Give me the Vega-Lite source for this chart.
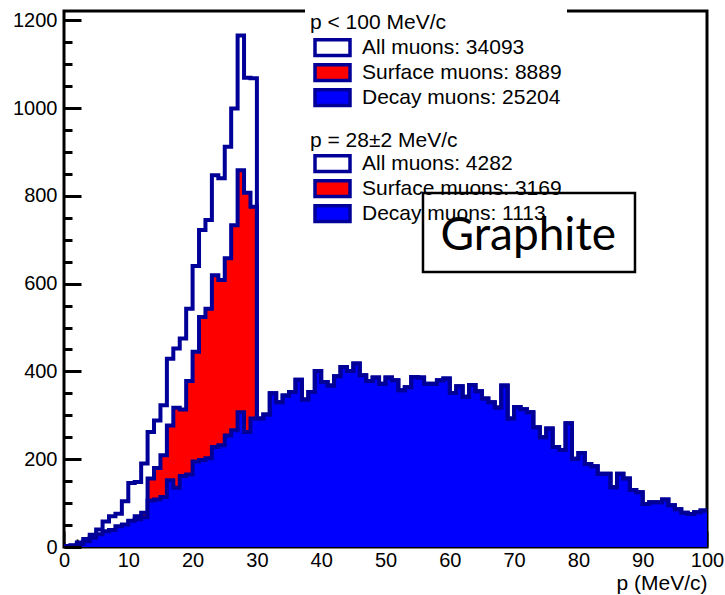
{
  "$schema": "https://vega.github.io/schema/vega-lite/v6.json",
  "width": 643,
  "height": 536,
  "autosize": {"type": "none"},
  "padding": {"left": 64, "top": 11, "right": 18, "bottom": 48},
  "background": "white",
  "config": {
    "view": {"stroke": "black", "strokeWidth": 3},
    "font": "Liberation Sans",
    "axis": {
      "grid": false, "domain": false,
      "labelFont": "Liberation Sans", "labelFontSize": 20, "labelColor": "black",
      "labelFlush": false, "labelOverlap": false, "format": "d",
      "tickColor": "black", "tickOpacity": 1,
      "titleFont": "Liberation Sans", "titleFontSize": 21, "titleFontWeight": "normal", "titleColor": "black"
    },
    "legend": {
      "labelFont": "Liberation Sans", "labelFontSize": 21, "labelColor": "black", "labelLimit": 400,
      "titleFont": "Liberation Sans", "titleFontSize": 21, "titleFontWeight": "normal", "titleColor": "black", "titleLimit": 400,
      "clipHeight": 25, "rowPadding": 0, "padding": 5
    }
  },
  "datasets": {
    "hist": [
      {"p": 0, "all": 2, "surface": 0, "decay": 2},
      {"p": 1, "all": 4, "surface": 1, "decay": 3},
      {"p": 2, "all": 10, "surface": 3, "decay": 7},
      {"p": 3, "all": 18, "surface": 5, "decay": 13},
      {"p": 4, "all": 28, "surface": 7, "decay": 21},
      {"p": 5, "all": 40, "surface": 11, "decay": 29},
      {"p": 6, "all": 58, "surface": 22, "decay": 36},
      {"p": 7, "all": 70, "surface": 31, "decay": 39},
      {"p": 8, "all": 76, "surface": 29, "decay": 47},
      {"p": 9, "all": 104, "surface": 45, "decay": 51},
      {"p": 10, "all": 146, "surface": 58, "decay": 60},
      {"p": 11, "all": 148, "surface": 70, "decay": 63},
      {"p": 12, "all": 190, "surface": 78, "decay": 68},
      {"p": 13, "all": 262, "surface": 156, "decay": 106},
      {"p": 14, "all": 288, "surface": 180, "decay": 108},
      {"p": 15, "all": 323, "surface": 209, "decay": 114},
      {"p": 16, "all": 429, "surface": 277, "decay": 152},
      {"p": 17, "all": 452, "surface": 317, "decay": 135},
      {"p": 18, "all": 475, "surface": 313, "decay": 162},
      {"p": 19, "all": 543, "surface": 378, "decay": 165},
      {"p": 20, "all": 640, "surface": 445, "decay": 195},
      {"p": 21, "all": 722, "surface": 524, "decay": 198},
      {"p": 22, "all": 745, "surface": 543, "decay": 202},
      {"p": 23, "all": 847, "surface": 619, "decay": 228},
      {"p": 24, "all": 840, "surface": 608, "decay": 232},
      {"p": 25, "all": 912, "surface": 658, "decay": 254},
      {"p": 26, "all": 999, "surface": 733, "decay": 266},
      {"p": 27, "all": 1165, "surface": 858, "decay": 307},
      {"p": 28, "all": 1069, "surface": 807, "decay": 262},
      {"p": 29, "all": 1068, "surface": 775, "decay": 293},
      {"p": 30, "all": 293, "surface": 0, "decay": 293},
      {"p": 31, "all": 302, "surface": 0, "decay": 302},
      {"p": 32, "all": 350, "surface": 0, "decay": 350},
      {"p": 33, "all": 330, "surface": 0, "decay": 330},
      {"p": 34, "all": 345, "surface": 0, "decay": 345},
      {"p": 35, "all": 353, "surface": 0, "decay": 353},
      {"p": 36, "all": 381, "surface": 0, "decay": 381},
      {"p": 37, "all": 336, "surface": 0, "decay": 336},
      {"p": 38, "all": 353, "surface": 0, "decay": 353},
      {"p": 39, "all": 401, "surface": 0, "decay": 401},
      {"p": 40, "all": 376, "surface": 0, "decay": 376},
      {"p": 41, "all": 368, "surface": 0, "decay": 368},
      {"p": 42, "all": 389, "surface": 0, "decay": 389},
      {"p": 43, "all": 410, "surface": 0, "decay": 410},
      {"p": 44, "all": 401, "surface": 0, "decay": 401},
      {"p": 45, "all": 418, "surface": 0, "decay": 418},
      {"p": 46, "all": 391, "surface": 0, "decay": 391},
      {"p": 47, "all": 378, "surface": 0, "decay": 378},
      {"p": 48, "all": 386, "surface": 0, "decay": 386},
      {"p": 49, "all": 372, "surface": 0, "decay": 372},
      {"p": 50, "all": 386, "surface": 0, "decay": 386},
      {"p": 51, "all": 380, "surface": 0, "decay": 380},
      {"p": 52, "all": 357, "surface": 0, "decay": 357},
      {"p": 53, "all": 364, "surface": 0, "decay": 364},
      {"p": 54, "all": 387, "surface": 0, "decay": 387},
      {"p": 55, "all": 386, "surface": 0, "decay": 386},
      {"p": 56, "all": 372, "surface": 0, "decay": 372},
      {"p": 57, "all": 372, "surface": 0, "decay": 372},
      {"p": 58, "all": 380, "surface": 0, "decay": 380},
      {"p": 59, "all": 384, "surface": 0, "decay": 384},
      {"p": 60, "all": 351, "surface": 0, "decay": 351},
      {"p": 61, "all": 366, "surface": 0, "decay": 366},
      {"p": 62, "all": 342, "surface": 0, "decay": 342},
      {"p": 63, "all": 369, "surface": 0, "decay": 369},
      {"p": 64, "all": 355, "surface": 0, "decay": 355},
      {"p": 65, "all": 338, "surface": 0, "decay": 338},
      {"p": 66, "all": 330, "surface": 0, "decay": 330},
      {"p": 67, "all": 318, "surface": 0, "decay": 318},
      {"p": 68, "all": 368, "surface": 0, "decay": 368},
      {"p": 69, "all": 293, "surface": 0, "decay": 293},
      {"p": 70, "all": 319, "surface": 0, "decay": 319},
      {"p": 71, "all": 314, "surface": 0, "decay": 314},
      {"p": 72, "all": 307, "surface": 0, "decay": 307},
      {"p": 73, "all": 273, "surface": 0, "decay": 273},
      {"p": 74, "all": 250, "surface": 0, "decay": 250},
      {"p": 75, "all": 270, "surface": 0, "decay": 270},
      {"p": 76, "all": 228, "surface": 0, "decay": 228},
      {"p": 77, "all": 221, "surface": 0, "decay": 221},
      {"p": 78, "all": 282, "surface": 0, "decay": 282},
      {"p": 79, "all": 201, "surface": 0, "decay": 201},
      {"p": 80, "all": 214, "surface": 0, "decay": 214},
      {"p": 81, "all": 189, "surface": 0, "decay": 189},
      {"p": 82, "all": 184, "surface": 0, "decay": 184},
      {"p": 83, "all": 167, "surface": 0, "decay": 167},
      {"p": 84, "all": 167, "surface": 0, "decay": 167},
      {"p": 85, "all": 136, "surface": 0, "decay": 136},
      {"p": 86, "all": 167, "surface": 0, "decay": 167},
      {"p": 87, "all": 156, "surface": 0, "decay": 156},
      {"p": 88, "all": 130, "surface": 0, "decay": 130},
      {"p": 89, "all": 125, "surface": 0, "decay": 125},
      {"p": 90, "all": 98, "surface": 0, "decay": 98},
      {"p": 91, "all": 102, "surface": 0, "decay": 102},
      {"p": 92, "all": 102, "surface": 0, "decay": 102},
      {"p": 93, "all": 108, "surface": 0, "decay": 108},
      {"p": 94, "all": 95, "surface": 0, "decay": 95},
      {"p": 95, "all": 86, "surface": 0, "decay": 86},
      {"p": 96, "all": 78, "surface": 0, "decay": 78},
      {"p": 97, "all": 75, "surface": 0, "decay": 75},
      {"p": 98, "all": 79, "surface": 0, "decay": 79},
      {"p": 99, "all": 83, "surface": 0, "decay": 83},
      {"p": 100, "all": 83, "surface": 0, "decay": 83}
    ],
    "counts": [
      {"range": "p < 100 MeV/c", "label": "All muons: 34093"},
      {"range": "p < 100 MeV/c", "label": "Surface muons: 8889"},
      {"range": "p < 100 MeV/c", "label": "Decay muons: 25204"},
      {"range": "p = 28±2 MeV/c", "label": "All muons: 4282"},
      {"range": "p = 28±2 MeV/c", "label": "Surface muons: 3169"},
      {"range": "p = 28±2 MeV/c", "label": "Decay muons: 1113"}
    ]
  },
  "layer": [
    {
      "data": {"name": "hist"},
      "mark": {"type": "area", "interpolate": "step-after", "fill": "#ff0000", "clip": true},
      "encoding": {
        "x": {"field": "p", "type": "quantitative", "scale": {"domain": [0, 100], "nice": false}, "axis": null},
        "y": {"field": "surface", "type": "quantitative", "scale": {"domain": [0, 1221], "nice": false}, "axis": null}
      }
    },
    {
      "data": {"name": "hist"},
      "mark": {"type": "line", "interpolate": "step-after", "stroke": "#000099", "strokeWidth": 4, "clip": true},
      "encoding": {
        "x": {"field": "p", "type": "quantitative", "axis": null},
        "y": {"field": "surface", "type": "quantitative", "axis": null}
      }
    },
    {
      "data": {"name": "hist"},
      "mark": {"type": "area", "interpolate": "step-after", "fill": "#0000ff", "clip": true},
      "encoding": {
        "x": {"field": "p", "type": "quantitative",
              "axis": {"values": [2,4,6,8,12,14,16,18,22,24,26,28,32,34,36,38,42,44,46,48,52,54,56,58,62,64,66,68,72,74,76,78,82,84,86,88,92,94,96,98],
                       "labels": false, "tickSize": -8, "tickWidth": 2, "tickColor": "black", "title": null, "orient": "bottom"}},
        "y": {"field": "decay", "type": "quantitative",
              "axis": {"values": [50,100,150,250,300,350,450,500,550,650,700,750,850,900,950,1050,1100,1150],
                       "labels": false, "tickSize": -8, "tickWidth": 3, "tickColor": "black", "title": null, "orient": "left", "zindex": 1}}
      }
    },
    {
      "data": {"name": "hist"},
      "mark": {"type": "line", "interpolate": "step-after", "stroke": "#000099", "strokeWidth": 4, "clip": true},
      "encoding": {
        "x": {"field": "p", "type": "quantitative", "axis": null},
        "y": {"field": "decay", "type": "quantitative", "axis": null}
      }
    },
    {
      "data": {"name": "hist"},
      "mark": {"type": "line", "interpolate": "step-after", "stroke": "#000099", "strokeWidth": 4, "clip": true},
      "encoding": {
        "x": {"field": "p", "type": "quantitative",
              "axis": {"values": [0,10,20,30,40,50,60,70,80,90,100], "tickSize": -16, "tickWidth": 2, "tickColor": "black",
                       "labelPadding": 19, "title": "p (MeV/c)", "titleAnchor": "end", "titlePadding": 2, "orient": "bottom"}},
        "y": {"field": "all", "type": "quantitative",
              "axis": {"values": [0,200,400,600,800,1000,1200], "tickSize": -17, "tickWidth": 3, "tickColor": "black",
                       "labelPadding": 24, "title": null, "orient": "left", "zindex": 1}}
      }
    },
    {
      "data": {"values": [{"label": "Graphite"}]},
      "mark": {"type": "rect", "filled": false, "stroke": "black", "strokeWidth": 2.5},
      "encoding": {
        "x": {"datum": 55.83, "type": "quantitative", "axis": null},
        "x2": {"datum": 88.8},
        "y": {"datum": 626.5, "type": "quantitative", "axis": null},
        "y2": {"datum": 806.4}
      }
    },
    {
      "data": {"values": [{"label": "Graphite"}]},
      "mark": {"type": "text", "font": "Lato", "fontSize": 46, "align": "center", "baseline": "alphabetic", "color": "black"},
      "encoding": {
        "x": {"datum": 72.2, "type": "quantitative", "axis": null},
        "y": {"datum": 677, "type": "quantitative", "axis": null},
        "text": {"field": "label"}
      }
    },
    {
      "data": {"name": "counts"},
      "transform": [{"filter": {"field": "range", "equal": "p < 100 MeV/c"}}],
      "mark": {"type": "square", "opacity": 0},
      "encoding": {
        "fill": {
          "field": "label", "type": "nominal",
          "scale": {"domain": ["All muons: 34093", "Surface muons: 8889", "Decay muons: 25204"], "range": ["#ffffff", "#ff0000", "#0000ff"]},
          "legend": {
            "title": "p < 100 MeV/c", "orient": "none", "legendX": 241, "legendY": -4,
            "fillColor": "white", "titlePadding": 2,
            "symbolType": "M-1,-0.45H1V0.45H-1Z", "symbolSize": 1225, "symbolOffset": 3, "labelOffset": 10,
            "symbolStrokeColor": "#000099", "symbolStrokeWidth": 3.5, "symbolOpacity": 1,
            "encode": {"symbols": {"update": {"stroke": {"value": "#000099"}, "strokeWidth": {"value": 3.5}, "opacity": {"value": 1}}}}
          }
        }
      }
    },
    {
      "data": {"name": "counts"},
      "transform": [{"filter": {"field": "range", "equal": "p = 28±2 MeV/c"}}],
      "mark": {"type": "square", "opacity": 0},
      "encoding": {
        "fill": {
          "field": "label", "type": "nominal",
          "scale": {"domain": ["All muons: 4282", "Surface muons: 3169", "Decay muons: 1113"], "range": ["#ffffff", "#ff0000", "#0000ff"]},
          "legend": {
            "title": "p = 28±2 MeV/c", "orient": "none", "legendX": 241, "legendY": 114,
            "titlePadding": 0,
            "symbolType": "M-1,-0.45H1V0.45H-1Z", "symbolSize": 1225, "symbolOffset": 3, "labelOffset": 10,
            "symbolStrokeColor": "#000099", "symbolStrokeWidth": 3.5, "symbolOpacity": 1,
            "encode": {"symbols": {"update": {"stroke": {"value": "#000099"}, "strokeWidth": {"value": 3.5}, "opacity": {"value": 1}}}}
          }
        }
      }
    }
  ],
  "resolve": {
    "scale": {"fill": "independent"},
    "legend": {"fill": "independent"},
    "axis": {"x": "independent", "y": "independent"}
  }
}
